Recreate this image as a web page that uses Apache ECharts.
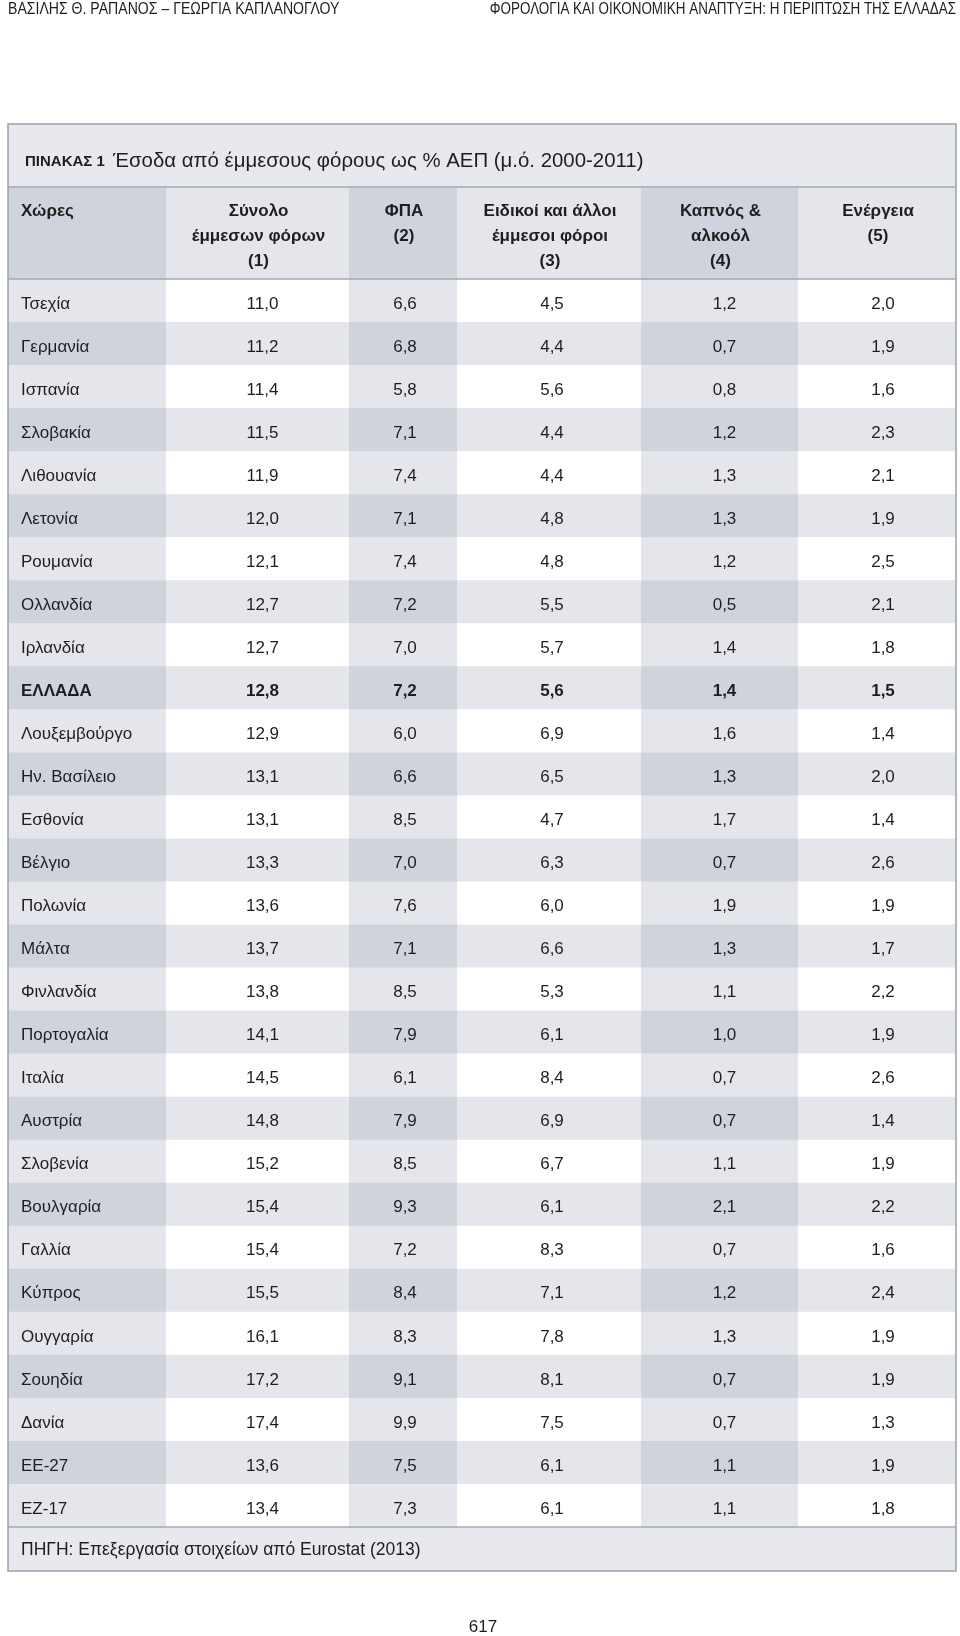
<!DOCTYPE html>
<html><head><meta charset="utf-8">
<script src="https://cdn.jsdelivr.net/npm/echarts@6/dist/echarts.min.js"></script>
<style>html,body{margin:0;padding:0;background:#fff}#c{width:960px;height:1636px}</style>
</head><body><div id="c"></div>
<script>
// ---- data ----
const countries = ['Τσεχία','Γερμανία','Ισπανία','Σλοβακία','Λιθουανία','Λετονία','Ρουμανία','Ολλανδία','Ιρλανδία','ΕΛΛΑΔΑ','Λουξεμβούργο','Ην. Βασίλειο','Εσθονία','Βέλγιο','Πολωνία','Μάλτα','Φινλανδία','Πορτογαλία','Ιταλία','Αυστρία','Σλοβενία','Βουλγαρία','Γαλλία','Κύπρος','Ουγγαρία','Σουηδία','Δανία','ΕΕ-27','ΕΖ-17'];
const total   = [11.0,11.2,11.4,11.5,11.9,12.0,12.1,12.7,12.7,12.8,12.9,13.1,13.1,13.3,13.6,13.7,13.8,14.1,14.5,14.8,15.2,15.4,15.4,15.5,16.1,17.2,17.4,13.6,13.4];
const vat     = [6.6,6.8,5.8,7.1,7.4,7.1,7.4,7.2,7.0,7.2,6.0,6.6,8.5,7.0,7.6,7.1,8.5,7.9,6.1,7.9,8.5,9.3,7.2,8.4,8.3,9.1,9.9,7.5,7.3];
const special = [4.5,4.4,5.6,4.4,4.4,4.8,4.8,5.5,5.7,5.6,6.9,6.5,4.7,6.3,6.0,6.6,5.3,6.1,8.4,6.9,6.7,6.1,8.3,7.1,7.8,8.1,7.5,6.1,6.1];
const tobacco = [1.2,0.7,0.8,1.2,1.3,1.3,1.2,0.5,1.4,1.4,1.6,1.3,1.7,0.7,1.9,1.3,1.1,1.0,0.7,0.7,1.1,2.1,0.7,1.2,1.3,0.7,0.7,1.1,1.1];
const energy  = [2.0,1.9,1.6,2.3,2.1,1.9,2.5,2.1,1.8,1.5,1.4,2.0,1.4,2.6,1.9,1.7,2.2,1.9,2.6,1.4,1.9,2.2,1.6,2.4,1.9,1.9,1.3,1.9,1.8];
const headers = ['Χώρες','Σύνολο\nέμμεσων φόρων\n(1)','ΦΠΑ\n(2)','Ειδικοί και άλλοι\nέμμεσοι φόροι\n(3)','Καπνός &\nαλκοόλ\n(4)','Ενέργεια\n(5)'];
const highlight = 'ΕΛΛΑΔΑ';
const tableTitleLabel = 'ΠΙΝΑΚΑΣ 1';
const tableTitle = 'Έσοδα από έμμεσους φόρους ως % ΑΕΠ (μ.ό. 2000-2011)';
const sourceNote = 'ΠΗΓΗ: Επεξεργασία στοιχείων από Eurostat (2013)';
const runningLeft = 'ΒΑΣΙΛΗΣ Θ. ΡΑΠΑΝΟΣ – ΓΕΩΡΓΙΑ ΚΑΠΛΑΝΟΓΛΟΥ';
const runningRight = 'ΦΟΡΟΛΟΓΙΑ ΚΑΙ ΟΙΚΟΝΟΜΙΚΗ ΑΝΑΠΤΥΞΗ: Η ΠΕΡΙΠΤΩΣΗ ΤΗΣ ΕΛΛΑΔΑΣ';
const pageNumber = '617';

// ---- layout / style ----
const FONT = '"Liberation Sans", "DejaVu Sans", sans-serif';
const edges = [8,166,349,457,641,798,956];
const textShift = [13,5,2,3,5,6];
const T = {box:124, head:187, data:279, foot:1527, bottom:1571};
const shades = ['#ffffff','#e4e6eb','#cfd3db'];
const columns = [countries, total, vat, special, tobacco, energy];
const fmt = v => v.toFixed(1).replace('.', ',');

const grids = [], xAxes = [], yAxes = [], series = [];
for (let c = 0; c < 6; c++) {
  const left = edges[c], width = edges[c+1] - edges[c];
  const colKey = 'c' + c;
  // header grid
  grids.push({left, width, top: T.head, height: T.data - T.head});
  const gh = grids.length - 1;
  xAxes.push({type:'category', data:[colKey], gridIndex: gh, show:false});
  yAxes.push({type:'category', data:['h'], gridIndex: gh, show:false});
  series.push({
    type:'custom', xAxisIndex: gh, yAxisIndex: gh, silent:true,
    data:[[colKey,'h']],
    renderItem: (params, api) => {
      const p = api.coord([api.value(0), api.value(1)]);
      const s = api.size([1,1]);
      const lvl = (c % 2 === 0 ? 1 : 0) + 1;
      const x0 = p[0]-s[0]/2, y0 = p[1]-s[1]/2;
      return {type:'group', children:[
        {type:'rect', shape:{x:x0, y:y0, width:s[0], height:s[1]}, style:{fill:shades[lvl]}},
        {type:'text', style:{text: headers[c], x: c===0 ? x0+textShift[0] : p[0]+1, y: y0+12,
          align: c===0 ? 'left':'center', verticalAlign:'top', lineHeight:25,
          font:'bold 17px ' + FONT, fill:'#1e1e1e'}}
      ]};
    }
  });
  // data grid
  grids.push({left, width, top: T.data, height: T.foot - T.data});
  const gd = grids.length - 1;
  xAxes.push({type:'category', data:[colKey], gridIndex: gd, show:false});
  yAxes.push({type:'category', data:countries, gridIndex: gd, inverse:true, show:false});
  series.push({
    type:'custom', xAxisIndex: gd, yAxisIndex: gd, silent:true,
    data: countries.map((name) => [colKey, name]),
    renderItem: (params, api) => {
      const i = params.dataIndex;
      const p = api.coord([api.value(0), api.value(1)]);
      const s = api.size([1,1]);
      const lvl = (c % 2 === 0 ? 1 : 0) + (i % 2 === 1 ? 1 : 0);
      const x0 = p[0]-s[0]/2, y0 = p[1]-s[1]/2;
      const v = columns[c][i];
      const bold = countries[i] === highlight;
      return {type:'group', children:[
        {type:'rect', shape:{x:x0, y:y0, width:s[0], height:s[1]+0.5}, style:{fill:shades[lvl]}},
        {type:'text', style:{text: c===0 ? v : fmt(v), x: c===0 ? x0+textShift[0] : p[0]+textShift[c], y: p[1]+3.5,
          align: c===0 ? 'left':'center', verticalAlign:'middle',
          font:(bold?'bold ':'') + '17px ' + FONT, fill:'#1e1e1e'}}
      ]};
    }
  });
}

const W = edges[6] - edges[0];
const graphic = [
  {type:'rect', z:0, shape:{x:edges[0], y:T.box, width:W, height:T.head-T.box}, style:{fill:'#e8e9ee'}},
  {type:'rect', z:0, shape:{x:edges[0], y:T.foot, width:W, height:T.bottom-T.foot}, style:{fill:'#e8e9ee'}},
  {type:'text', z:10, style:{text:tableTitleLabel, x:25, y:162, verticalAlign:'middle', font:'bold 15px ' + FONT, fill:'#1e1e1e'}},
  {type:'text', z:10, style:{text:tableTitle, x:113, y:161, verticalAlign:'middle', font:'20.4px ' + FONT, fill:'#1e1e1e'}},
  {type:'text', z:10, style:{text:sourceNote, x:21, y:1550, verticalAlign:'middle', font:'17.5px ' + FONT, fill:'#1e1e1e'}},
  {type:'text', z:10, x:8, y:10, scaleX:0.88, style:{text:runningLeft, x:0, y:0, verticalAlign:'middle', font:'16px ' + FONT, fill:'#1e1e1e'}},
  {type:'text', z:10, x:956, y:10, scaleX:0.84, style:{text:runningRight, x:0, y:0, align:'right', verticalAlign:'middle', font:'16px ' + FONT, fill:'#1e1e1e'}},
  {type:'text', z:10, style:{text:pageNumber, x:483, y:1627, align:'center', verticalAlign:'middle', font:'17px ' + FONT, fill:'#1e1e1e'}},
  {type:'line', z:20, shape:{x1:edges[0], y1:T.head, x2:edges[6], y2:T.head}, style:{stroke:'#a3a8b2', lineWidth:1.5}},
  {type:'line', z:20, shape:{x1:edges[0], y1:T.data, x2:edges[6], y2:T.data}, style:{stroke:'#a3a8b2', lineWidth:1.5}},
  {type:'line', z:20, shape:{x1:edges[0], y1:T.foot, x2:edges[6], y2:T.foot}, style:{stroke:'#a3a8b2', lineWidth:1.5}},
  {type:'rect', z:20, shape:{x:edges[0], y:T.box, width:W, height:T.bottom-T.box}, style:{fill:null, stroke:'#9ba1ab', lineWidth:1.5}}
];

const chart = echarts.init(document.getElementById('c'), null, {renderer:'canvas'});
chart.setOption({animation:false, grid:grids, xAxis:xAxes, yAxis:yAxes, series, graphic});
</script></body></html>
